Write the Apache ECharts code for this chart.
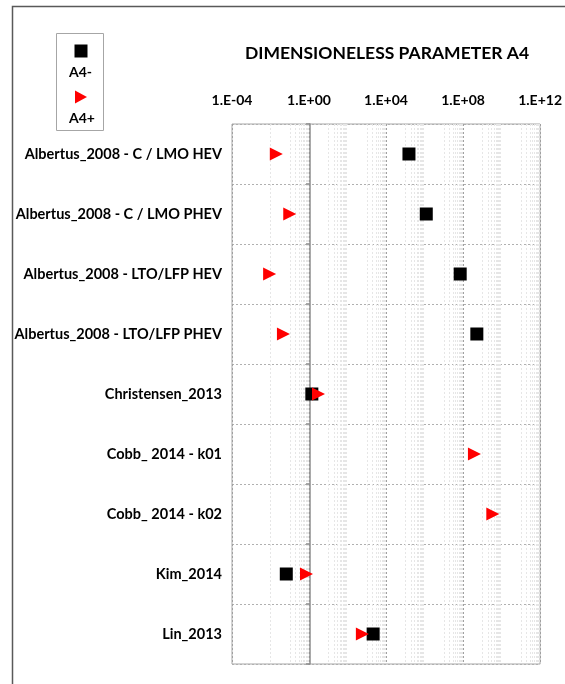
<!DOCTYPE html>
<html>
<head>
<meta charset="utf-8">
<script src="https://cdn.jsdelivr.net/npm/echarts@6/dist/echarts.min.js"></script>
<style>html,body{margin:0;padding:0;background:#fff}#chart{width:565px;height:684px}</style>
</head>
<body>
<div id="chart"></div>
<script>
const categories = [
  'Albertus_2008 - C / LMO HEV',
  'Albertus_2008 - C / LMO PHEV',
  'Albertus_2008 - LTO/LFP HEV',
  'Albertus_2008 - LTO/LFP PHEV',
  'Christensen_2013',
  'Cobb_ 2014 - k01',
  'Cobb_ 2014 - k02',
  'Kim_2014',
  'Lin_2013'
];
const a4Minus = [1.55e5, 1.23e6, 7.1e7, 5.2e8, 1.4, null, null, 0.066, 2140];
const a4Plus  = [0.020, 0.10, 0.009, 0.047, 3.1, 3.9e8, 3.5e9, 0.74, 590];
const xTickLabels = ['1.E-04', '1.E+00', '1.E+04', '1.E+08', '1.E+12'];
const minorExponents = [-3, -1, 1, 3, 5, 7, 9, 11];
const minorMultipliers = [1, 2, 3, 4, 5, 6, 7, 8, 9];

const FONT = 'Lato';
const TRI = 'path://M0,0L12,6.5L0,13Z';
const minorLines = [];
minorExponents.forEach(e => minorMultipliers.forEach(k => minorLines.push({ xAxis: k * Math.pow(10, e) })));

function pairs(arr) {
  const out = [];
  arr.forEach((v, i) => { if (v !== null) out.push([v, categories[i]]); });
  return out;
}

const chart = echarts.init(document.getElementById('chart'));
chart.setOption({
  animation: false,
  backgroundColor: '#fff',
  textStyle: { fontFamily: FONT },
  title: {
    text: 'DIMENSIONELESS PARAMETER A4',
    left: 382, top: 39, textAlign: 'center',
    textStyle: { fontFamily: FONT, fontWeight: 'bold', fontSize: 17.5, color: '#000' }
  },
  graphic: [
    { type: 'rect', shape: { x: 12.5, y: 6.5, width: 600, height: 700 },
      style: { fill: 'none', stroke: '#595959', lineWidth: 1.5 }, silent: true, z: -1 },
    { type: 'rect', shape: { x: 56.5, y: 33.5, width: 47, height: 97 },
      style: { fill: 'none', stroke: '#a6a6a6', lineWidth: 1 }, silent: true }
  ],
  legend: {
    orient: 'vertical',
    left: 69, top: 44.5, padding: 0,
    itemWidth: 13, itemHeight: 13,
    itemGap: 11,
    data: [
      { name: 'A4-', icon: 'rect' },
      { name: 'A4+', icon: TRI }
    ],
    formatter: n => '{a|' + n + '}',
    textStyle: {
      rich: { a: { fontFamily: FONT, fontWeight: 'bold', fontSize: 14, color: '#000', padding: [43, 0, 0, -23.5] } }
    },
    selectedMode: false
  },
  grid: { left: 232, right: 21, top: 124, bottom: 20, show: true, borderColor: '#a6a6a6', borderWidth: 1 },
  xAxis: {
    type: 'log', logBase: 10000, min: 1e-4, max: 1e12, position: 'top',
    axisLine: { show: false }, axisTick: { show: false },
    axisLabel: { margin: 17, fontFamily: FONT, fontWeight: 'bold', fontSize: 14, color: '#000',
      formatter: (v, i) => xTickLabels[i] },
    splitLine: { show: true, lineStyle: { color: '#a0a0a0', type: [2, 2], width: 1 } }
  },
  yAxis: [
    {
      type: 'category', data: categories, inverse: true, position: 'left',
      axisLine: { show: false }, axisTick: { show: false },
      axisLabel: { margin: 10, fontFamily: FONT, fontWeight: 'bold', fontSize: 14.5, color: '#000' },
      splitLine: { show: true, lineStyle: { color: '#b0b0b0', type: [2, 2], width: 1 } }
    },
    {
      type: 'category', data: categories, inverse: true, position: 'left', offset: -78,
      axisLine: { show: true, lineStyle: { color: '#8c8c8c', width: 1.5 } },
      axisTick: { show: true, length: 4, lineStyle: { color: '#8c8c8c', width: 1.5 } },
      axisLabel: { show: false }, splitLine: { show: false }
    }
  ],
  series: [
    {
      name: 'minor', type: 'scatter', data: [], silent: true, z: 0,
      markLine: { silent: true, z: 0, symbol: 'none', label: { show: false }, animation: false,
        lineStyle: { color: '#e6e6e6', type: [2, 2], width: 1 }, data: minorLines }
    },
    {
      name: 'A4-', type: 'scatter', symbol: 'rect', symbolSize: 13,
      itemStyle: { color: '#000', opacity: 1 }, data: pairs(a4Minus), z: 10
    },
    {
      name: 'A4+', type: 'scatter', symbol: TRI, symbolSize: [13, 13],
      itemStyle: { color: '#ff0000', opacity: 1 }, data: pairs(a4Plus), z: 11
    }
  ]
});
</script>
</body>
</html>
